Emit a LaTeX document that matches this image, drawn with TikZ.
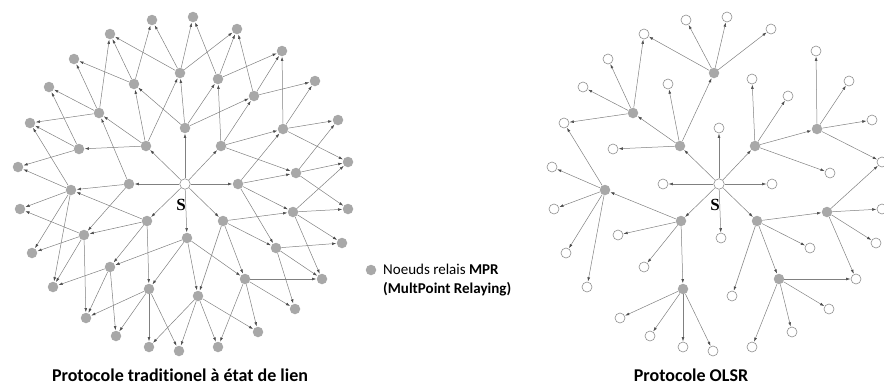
\documentclass[tikz,border=0pt]{standalone}
\usepackage{fontspec}
\setmainfont{Carlito}[Ligatures=NoCommon]
\newfontfamily\srcfont{Liberation Serif}
\usetikzlibrary{arrows.meta}
\usepackage{xcolor}

\definecolor{mprgrey}{RGB}{168,168,168}
\definecolor{linkgrey}{RGB}{128,128,128}

% name/x/y/kind, one entry per station (pixel grid, y down)
\def\netnodes{a/152/20/plain, b/193/17/plain, c/237/29/plain, d/110/34/plain,
  e/74/59/plain, f/282/51/plain, g/180/73/relay, h/134/84/plain, i/218/79/plain,
  j/49/87/plain, k/315/81/plain, l/254/96/plain, m/99/113/relay, n/30/123/plain,
  o/185/128/plain, p/338/120/plain, q/283/129/relay, r/146/146/relay,
  s/221/146/relay, t/79/149/plain, u/348/162/plain, v/296/173/plain,
  w/18/167/plain, x/129/184/plain, y/238/184/plain, z/71/190/relay,
  A/20/209/plain, B/147/221/relay, C/223/221/relay, D/293/212/relay,
  E/348/209/plain, F/187/238/plain, G/84/235/plain, H/32/253/plain,
  I/276/248/plain, J/342/243/plain, K/110/267/plain, L/53/287/plain,
  M/149/289/relay, N/198/296/plain, O/245/279/relay, P/322/279/plain,
  Q/295/309/plain, R/86/318/plain, T/116/336/plain, U/258/332/plain,
  V/149/347/plain, W/179/351/plain, X/218/347/plain, S/185/184/source}

% links kept by the MPR flooding
\def\mprlinks{S/x, S/y, S/o, S/r, S/s, S/B, S/C, S/F,
  r/g, r/m, r/h, r/t, g/a, g/b, g/c, g/d, m/e, m/d, m/j, m/n,
  s/i, s/l, s/q, s/v, q/f, q/k, q/p, q/u, B/z, B/G, B/K, B/M,
  z/w, z/n, z/A, z/H, z/L, M/R, M/T, M/V, M/W, C/I, C/O, C/N, C/D,
  O/P, O/Q, O/U, O/X, D/E, D/J, D/P, D/u}

% extra links of plain flooding
\def\floodlinks{o/g, o/h, o/i, o/l, x/m, x/z, x/G, y/q, y/v, y/D, y/I,
  h/a, h/d, h/e, i/b, i/c, i/f, l/c, l/f, l/k, t/j, t/n, t/w,
  F/K, F/M, F/N, F/O, G/A, G/H, G/L, G/R, K/L, K/R, K/T,
  N/V, N/W, N/X, N/U, I/J, I/P, I/Q, v/p, v/u, v/E}

\begin{document}
\begin{tikzpicture}[x=1pt, y=-1pt,
    relay/.style = {circle, fill=mprgrey, minimum size=10.5pt, inner sep=0pt},
    plain/.style = {circle, draw=mprgrey!85!black, fill=white, line width=0.6pt,
                    minimum size=10pt, inner sep=0pt},
    source/.style = {circle, draw=mprgrey!85!black, fill=white, line width=0.6pt,
                     minimum size=10.5pt, inner sep=0pt},
    link/.style = {draw=linkgrey, line width=0.5pt,
                   -{Latex[length=4.2pt,width=2.8pt,color=black!70]}, shorten >=0.3pt},
    slabel/.style = {font=\srcfont\bfseries\fontsize{17}{20}\selectfont, inner sep=0pt},
    caption/.style = {font=\bfseries\fontsize{18}{21}\selectfont, inner sep=0pt},
    keytext/.style = {font=\fontsize{15}{19}\selectfont, align=left, inner sep=0pt, anchor=west}
    ]
    \useasboundingbox (0,0) rectangle (884,389);
    \clip (0,0) rectangle (884,389);

    % traditional link state flooding
    \begin{scope}[plain/.style={relay}]
        \foreach \n/\x/\y/\t in \netnodes
            \node[\t] (L\n) at (\x,\y) {};
        \foreach \u/\v in \mprlinks
            \draw[link] (L\u) -- (L\v);
        \foreach \u/\v in \floodlinks
            \draw[link] (L\u) -- (L\v);
        \node[slabel] (Ltag) at ([xshift=-4pt,yshift=-21pt]LS) {S};
    \end{scope}

    % OLSR
    \begin{scope}[xshift=534pt]
        \foreach \n/\x/\y/\t in \netnodes
            \node[\t] (R\n) at (\x,\y) {};
        \foreach \u/\v in \mprlinks
            \draw[link] (R\u) -- (R\v);
        \node[slabel] (Rtag) at ([xshift=-4pt,yshift=-21pt]RS) {S};
    \end{scope}

    \node[relay] (key) at (371,270) {};
    \node[keytext] (keytxt) at (383,280) {Noeuds relais \textbf{MPR}\\\textbf{(MultPoint Relaying)}};

    \node[caption] (lcap) at (180,375) {Protocole traditionel à état de lien};
    \node[caption] (rcap) at (691,375) {Protocole OLSR};
\end{tikzpicture}
\end{document}
